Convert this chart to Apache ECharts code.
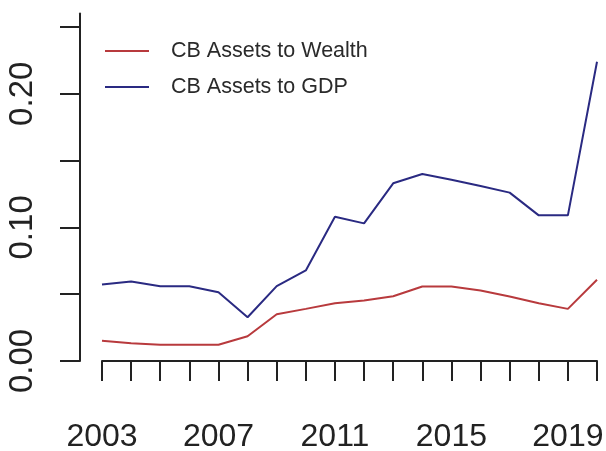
<!DOCTYPE html>
<html>
<head>
<meta charset="utf-8">
<script src="https://cdn.jsdelivr.net/npm/echarts@6/dist/echarts.min.js"></script>
<style>
html,body{margin:0;padding:0;background:#fff;}
#c{width:606px;height:451px;}
</style>
</head>
<body>
<div id="c"></div>
<script>
var years = [2003,2004,2005,2006,2007,2008,2009,2010,2011,2012,2013,2014,2015,2016,2017,2018,2019,2020];
var wealth = [0.0151,0.0133,0.0122,0.0121,0.0121,0.0185,0.0350,0.0390,0.0432,0.0452,0.0485,0.0558,0.0558,0.0528,0.0482,0.0432,0.0390,0.0608];
var gdp = [0.0573,0.0595,0.0560,0.0560,0.0515,0.0327,0.0560,0.0678,0.1080,0.1030,0.1330,0.1400,0.1357,0.1310,0.1260,0.1090,0.1090,0.2240];
var xLabels = [2003,2007,2011,2015,2019];
var yTicks = [0,0.05,0.10,0.15,0.20,0.25];
var yLabels = [0,0.10,0.20];
var seriesNames = ['CB Assets to Wealth','CB Assets to GDP'];

var font = '"Liberation Sans", Arial, sans-serif';
var chart = echarts.init(document.getElementById('c'), null, {renderer:'canvas'});
function pairs(v){ return years.map(function(y,i){ return [y, v[i]]; }); }
chart.setOption({
  animation:false,
  backgroundColor:'#ffffff',
  grid:{left:102,right:9,top:13.6,bottom:90,containLabel:false,outerBoundsMode:'none'},
  legend:{
    orient:'vertical', left:100, top:35, itemWidth:44, itemHeight:14, itemGap:14,
    icon:'path://M0,6 L44,6 L44,8 L0,8 Z',
    textStyle:{fontFamily:font,fontSize:21.5,color:'#2a2a2a',padding:[0,0,0,17]},
    data:seriesNames
  },
  xAxis:{
    type:'value', min:2003, max:2020, interval:1, offset:14,
    axisLine:{show:true,lineStyle:{color:'#222',width:2}},
    axisTick:{show:true,length:20,lineStyle:{color:'#222',width:2},customValues:years},
    axisLabel:{customValues:xLabels,margin:46,fontFamily:font,fontSize:32,color:'#222',formatter:function(v){return String(v);}},
    splitLine:{show:false}
  },
  yAxis:{
    type:'value', min:0, max:0.26, interval:0.05, offset:22,
    axisLine:{show:true,lineStyle:{color:'#222',width:2}},
    axisTick:{show:true,length:20,lineStyle:{color:'#222',width:2},customValues:yTicks},
    axisLabel:{customValues:yLabels,rotate:90,margin:41,fontFamily:font,fontSize:33,color:'#222',formatter:function(v){return v.toFixed(2);}},
    splitLine:{show:false}
  },
  series:[
    {name:seriesNames[0],type:'line',data:pairs(wealth),symbol:'none',lineStyle:{color:'#b83a3d',width:2},itemStyle:{color:'#b83a3d'}},
    {name:seriesNames[1],type:'line',data:pairs(gdp),symbol:'none',lineStyle:{color:'#2a2a82',width:2},itemStyle:{color:'#2a2a82'}}
  ]
});
</script>
</body>
</html>
